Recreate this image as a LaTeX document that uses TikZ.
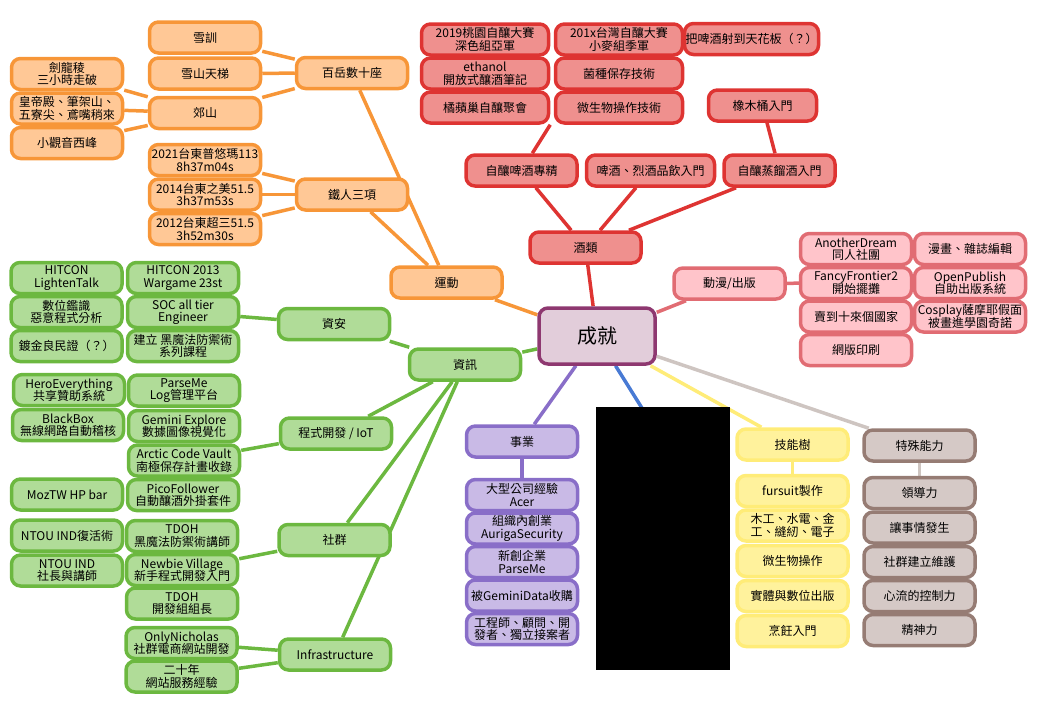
\documentclass[tikz,border=0pt]{standalone}
\usepackage{fontspec}
\setmainfont{Noto Sans CJK TC}
\usetikzlibrary{backgrounds}

\definecolor{orline}{RGB}{247,150,56}
\definecolor{orfill}{RGB}{255,200,150}
\definecolor{rdline}{RGB}{222,52,50}
\definecolor{rdfill}{RGB}{239,144,142}
\definecolor{pkline}{RGB}{225,108,115}
\definecolor{pkfill}{RGB}{255,196,202}
\definecolor{grline}{RGB}{108,184,64}
\definecolor{grfill}{RGB}{176,220,152}
\definecolor{puline}{RGB}{137,110,200}
\definecolor{pufill}{RGB}{201,186,230}
\definecolor{rtline}{RGB}{142,56,112}
\definecolor{rtfill}{RGB}{226,205,218}
\definecolor{blline}{RGB}{72,122,212}
\definecolor{ylline}{RGB}{255,236,120}
\definecolor{ylfill}{RGB}{255,242,156}
\definecolor{brline}{RGB}{150,124,116}
\definecolor{brfill}{RGB}{213,201,198}
\definecolor{gyline}{RGB}{206,197,193}

\newcommand{\boxfont}{\fontsize{12}{12.5}\selectfont\lineskiplimit=-20pt}

\tikzset{
  box/.style={rounded corners=9pt, line width=3.5pt, minimum width=111pt,
    minimum height=31pt, inner sep=1pt, align=center, font=\boxfont},
  sport/.style={box, draw=orline, fill=orfill},
  brew/.style={box, draw=rdline, fill=rdfill},
  acg/.style={box, draw=pkline, fill=pkfill},
  info/.style={box, draw=grline, fill=grfill},
  biz/.style={box, draw=puline, fill=pufill},
  skill/.style={box, draw=ylline, fill=ylfill},
  spec/.style={box, draw=brline, fill=brfill},
  wide/.style={minimum width=127pt},
  link/.style={line width=3.5pt}
}

\begin{document}
\begin{tikzpicture}[x=1pt, y=-1pt]
  \useasboundingbox (0,0) rectangle (1042,704);

  \node[box, draw=rtline, fill=rtfill, minimum width=116pt, minimum height=56pt,
    font=\fontsize{20}{22}\selectfont] (root) at (597,336) {成就};

  % sport
  \node[sport] (sport) at (446.5,282.5) {運動};
  \node[sport] (hundred) at (352,73) {百岳數十座};
  \node[sport] (snow) at (205,37.5) {雪訓};
  \node[sport] (ladder) at (205,73.5) {雪山天梯};
  \node[sport] (hills) at (205,113) {郊山};
  \node[sport] (jlr) at (67,74) {劍龍稜\\三小時走破};
  \node[sport] (hdd) at (67,108.5) {皇帝殿、筆架山、\\五寮尖、鳶嘴稍來};
  \node[sport] (gyx) at (67,143) {小觀音西峰};
  \node[sport] (tri) at (352,194.5) {鐵人三項};
  \node[sport] (tria) at (205,160) {2021台東普悠瑪113\\8h37m04s};
  \node[sport] (trib) at (205,194.5) {2014台東之美51.5\\3h37m53s};
  \node[sport] (tric) at (205,229) {2012台東超三51.5\\3h52m30s};

  % brewing
  \node[brew] (wine) at (585.5,247.5) {酒類};
  \node[brew] (homebrew) at (521.5,170.5) {自釀啤酒專精};
  \node[brew, minimum width=128pt] (taste) at (650.5,170.5) {啤酒、烈酒品飲入門};
  \node[brew] (distil) at (779.5,170.5) {自釀蒸餾酒入門};
  \node[brew, minimum width=108pt] (oak) at (762.5,105.5) {橡木桶入門};
  \node[brew, wide] (tyc) at (485,39.5) {2019桃園自釀大賽\\深色組亞軍};
  \node[brew, wide] (twc) at (619,39.5) {201x台灣自釀大賽\\小麥組季軍};
  \node[brew, minimum width=131pt] (ceil) at (751.5,39) {把啤酒射到天花板（？）};
  \node[brew, wide] (eth) at (485,73.5) {ethanol\\開放式釀酒筆記};
  \node[brew, wide] (keep) at (619,73.5) {菌種保存技術};
  \node[brew, wide] (jpc) at (485,107.5) {橘蘋巢自釀聚會};
  \node[brew, wide] (micro) at (619,107.5) {微生物操作技術};

  % comics
  \node[acg] (comic) at (729.5,283.5) {動漫/出版};
  \node[acg] (adr) at (856,249) {AnotherDream\\同人社團};
  \node[acg] (edit) at (970,249) {漫畫、雜誌編輯};
  \node[acg] (ff2) at (856,283) {FancyFrontier2\\開始擺攤};
  \node[acg] (opub) at (970,283) {OpenPublish\\自助出版系統};
  \node[acg] (sold) at (856,316.5) {賣到十來個國家};
  \node[acg] (cos) at (970,316.5) {Cosplay薩摩耶假面\\被畫進學園奇諾};
  \node[acg] (screen) at (856,350) {網版印刷};

  % info
  \node[info] (it) at (465,364.5) {資訊};
  \node[info] (sec) at (334,324) {資安};
  \node[info] (hl) at (66.5,278) {HITCON\\LightenTalk};
  \node[info] (hw) at (183,278) {HITCON 2013\\Wargame 23st};
  \node[info] (dfm) at (66.5,312) {數位鑑識\\惡意程式分析};
  \node[info] (soc) at (183,312) {SOC all tier\\Engineer};
  \node[info] (gold) at (66.5,346) {鍍金良民證（？）};
  \node[info] (dada) at (183,346) {建立 黑魔法防禦術\\系列課程};
  \node[info] (dev) at (336,433.5) {程式開發 / IoT};
  \node[info] (hero) at (69,390) {HeroEverything\\共享贊助系統};
  \node[info] (pme) at (184,390.5) {ParseMe\\Log管理平台};
  \node[info] (bbox) at (68,425) {BlackBox\\無線網路自動稽核};
  \node[info] (gem) at (184,426) {Gemini Explore\\數據圖像視覺化};
  \node[info] (arctic) at (184,460.5) {Arctic Code Vault\\南極保存計畫收錄};
  \node[info] (moz) at (67,494.5) {MozTW HP bar};
  \node[info] (pico) at (183,495) {PicoFollower\\自動釀酒外掛套件};
  \node[info] (comm) at (334.5,540) {社群};
  \node[info] (ntoua) at (67,535.5) {NTOU IND復活術};
  \node[info] (tdoha) at (182,536) {TDOH\\黑魔法防禦術講師};
  \node[info] (ntoub) at (67,570.5) {NTOU IND\\社長與講師};
  \node[info] (newbie) at (182,570) {Newbie Village\\新手程式開發入門};
  \node[info] (tdohb) at (182,603.5) {TDOH\\開發組組長};
  \node[info] (infra) at (335,654.5) {Infrastructure};
  \node[info] (only) at (181.5,643) {OnlyNicholas\\社群電商網站開發};
  \node[info] (twenty) at (181.5,676.5) {二十年\\網站服務經驗};

  % business
  \node[biz] (work) at (522,441.5) {事業};
  \node[biz] (acer) at (522,495) {大型公司經驗\\Acer};
  \node[biz] (auriga) at (522,528.5) {組織內創業\\AurigaSecurity};
  \node[biz] (pmco) at (522,562) {新創企業\\ParseMe};
  \node[biz] (gdata) at (522,595.5) {被GeminiData收購};
  \node[biz] (free) at (522,629) {工程師、顧問、開\\發者、獨立接案者};

  % skills
  \node[skill] (tree) at (792.5,444.5) {技能樹};
  \node[skill] (fur) at (792.5,491) {fursuit製作};
  \node[skill] (wood) at (792.5,525.5) {木工、水電、金\\工、縫紉、電子};
  \node[skill] (microop) at (792.5,561) {微生物操作};
  \node[skill] (pub) at (792.5,596) {實體與數位出版};
  \node[skill] (cook) at (792.5,631) {烹飪入門};

  \node[spec] (power) at (919.5,445.5) {特殊能力};
  \node[spec] (lead) at (919.5,493) {領導力};
  \node[spec] (happen) at (919.5,527.5) {讓事情發生};
  \node[spec] (build) at (919.5,562) {社群建立維護};
  \node[spec] (flow) at (919.5,596) {心流的控制力};
  \node[spec] (mind) at (919.5,630) {精神力};

  \coordinate (hid) at (665,445);

  \begin{scope}[on background layer]
  \begin{scope}[link]
    \draw[orline] (root) to (sport);
    \draw[orline] (sport) to (hundred);
    \draw[orline] (sport) to (tri);
    \draw[orline] (hundred) to (snow);
    \draw[orline] (hundred) to (ladder);
    \draw[orline] (hundred) to (hills);
    \draw[orline] (hills) to (jlr);
    \draw[orline] (hills) to (hdd);
    \draw[orline] (hills) to (gyx);
    \draw[orline] (tri) to (tria);
    \draw[orline] (tri) to (trib);
    \draw[orline] (tri) to (tric);
    \draw[rdline] (root) to (wine);
    \draw[rdline] (wine) to (homebrew);
    \draw[rdline] (wine) to (taste);
    \draw[rdline] (wine) to (distil);
    \draw[rdline] (homebrew) to (jpc.south east);
    \draw[rdline] (distil) to (oak);
    \draw[pkline] (root) to (comic);
    \draw[pkline] (comic) to (ff2);
    \draw[grline] (root) to (it);
    \draw[grline] (it) to (sec);
    \draw[grline] (sec) to (soc);
    \draw[grline] (it) to (dev);
    \draw[grline] (dev) to (arctic);
    \draw[grline] (it) to (comm);
    \draw[grline] (comm) to (newbie);
    \draw[grline] (it) to (infra);
    \draw[grline] (infra) to (only);
    \draw[grline] (infra) to (twenty);
    \draw[puline] (root) to (work);
    \draw[puline] (work) to (acer);
    \draw[blline] (root) to (hid);
    \draw[ylline] (root) to (tree);
    \draw[ylline] (tree) to (fur);
    \draw[gyline] (root) to (power);
    \draw[gyline] (power) to (lead);
  \end{scope}
  \end{scope}

  \fill[black] (596,407) rectangle (730,670);
\end{tikzpicture}
\end{document}
